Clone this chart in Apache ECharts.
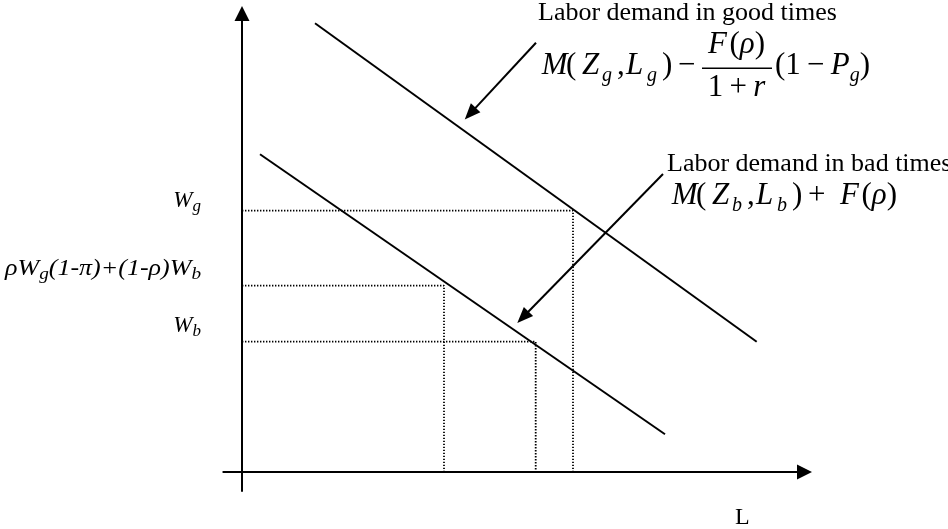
<!DOCTYPE html>
<html>
<head>
<meta charset="utf-8">
<script src="https://cdn.jsdelivr.net/npm/echarts@6/dist/echarts.min.js"></script>
<style>
  html, body { margin: 0; padding: 0; background: #fff; }
  #chart { width: 948px; height: 529px; }
</style>
</head>
<body>
<div id="chart"></div>
<script>
// demand curves, end points as [L, W]
const goodTimesL = [7.3, 51.47];
const goodTimesW = [44.87, 13.03];
const badTimesL = [1.8, 42.3];
const badTimesW = [31.77, 3.77];

// wage levels Wg, expected wage, Wb and the employment that goes with each
const wageLevels = [26.13, 18.63, 13.03];
const laborLevels = [33.1, 20.2, 29.37];

// pointer arrows from the labels, [from, to]
const goodArrow = [[29.4, 42.93], [22.82, 35.84]];
const badArrow = [[42.1, 29.8], [28.09, 15.47]];

const serif = "'Liberation Serif', 'Times New Roman', serif";
const black = '#000';

const chart = echarts.init(document.getElementById('chart'));

const axisCommon = {
  type: 'value',
  axisLine: {
    onZero: true,
    symbol: ['none', 'triangle'],
    symbolSize: [15, 15],
    lineStyle: { color: black, width: 2 }
  },
  axisTick: { show: false },
  axisLabel: { show: false },
  splitLine: { show: false }
};

const curve = (xs, ys, extra) => Object.assign({
  type: 'line',
  data: xs.map((x, i) => [x, ys[i]]),
  symbol: 'none',
  silent: true,
  z: 3,
  lineStyle: { color: black, width: 2 }
}, extra);

const guides = wageLevels.map((w, i) => ({
  type: 'line',
  data: [[0, w], [laborLevels[i], w], [laborLevels[i], 0]],
  symbol: 'none',
  silent: true,
  lineStyle: { color: black, width: 1.8, type: [1.4, 1.6] }
}));

const text = (x, y, str, style, el) => Object.assign({
  type: 'text',
  x: x,
  y: y,
  silent: true,
  style: Object.assign({
    text: str,
    fill: black,
    font: '26px ' + serif,
    align: 'left',
    textAlign: 'left',
    verticalAlign: 'middle',
    textVerticalAlign: 'middle'
  }, style)
}, el);

// one line of a formula, glyph groups placed at their own x; baseline given
const MAIN = 31, SUB = 20, SUB_DROP = 5.7;
const mathRow = (baseline, pieces) => pieces.map(([x, str, kind]) => {
  const size = kind === 's' ? SUB : MAIN;
  const y = kind === 's' ? baseline + SUB_DROP - 0.3375 * size : baseline - 0.3375 * size;
  const italic = kind === 'n' ? '' : 'italic ';
  return text(x, y, str, { font: italic + size + 'px ' + serif });
});

const mathRich = {
  n: { fontFamily: serif, fontSize: MAIN, lineHeight: 39, fill: black },
  i: { fontFamily: serif, fontSize: MAIN, fontStyle: 'italic', lineHeight: 39, fill: black },
  s: { fontFamily: serif, fontSize: SUB, fontStyle: 'italic', lineHeight: 20, verticalAlign: 'bottom', fill: black }
};
const labRich = {
  i: { fontFamily: serif, fontSize: 23, fontStyle: 'italic', lineHeight: 29, fill: black },
  s: { fontFamily: serif, fontSize: 17, fontStyle: 'italic', lineHeight: 17, verticalAlign: 'bottom', fill: black }
};
const rightStyle = { rich: labRich, align: 'right', textAlign: 'right' };
const centerStyle = { rich: mathRich, align: 'center', textAlign: 'center' };

const option = {
  animation: false,
  backgroundColor: '#fff',
  grid: { left: 223.3, right: 143.5, top: 13.5, bottom: 38 },
  xAxis: Object.assign({}, axisCommon, { min: -1.87, max: 56.25 }),
  yAxis: Object.assign({}, axisCommon, { min: -1.9, max: 45.85 }),
  series: [
    curve(goodTimesL, goodTimesW, {
      markLine: {
        silent: true,
        animation: false,
        symbol: ['none', 'triangle'],
        symbolSize: [13, 16],
        label: { show: false },
        lineStyle: { color: black, width: 2, type: 'solid' },
        data: [
          [{ coord: goodArrow[0] }, { coord: goodArrow[1] }],
          [{ coord: badArrow[0] }, { coord: badArrow[1] }]
        ]
      }
    }),
    curve(badTimesL, badTimesW)
  ].concat(guides),
  graphic: [
    text(538, 12.9, 'Labor demand in good times'),
    text(667, 163.7, 'Labor demand in bad times'),
    text(735, 517.9, 'L', { font: '24px ' + serif }),

    // good times demand: M(Zg, Lg) - F(rho)/(1+r) (1 - Pg)
    ...mathRow(76.7, [
      [541.7, 'M', 'i'], [566, '(', 'n'], [582, 'Z', 'i'], [602, 'g', 's'], [617, ',', 'n'],
      [626, 'L', 'i'], [647, 'g', 's'], [662, ')', 'n'], [678, '\u2212', 'n']
    ]),
    text(736.5, 44.5, '{i|F}{n|\u200a(}{i|ρ}{n|)}', centerStyle),
    { type: 'line', silent: true, shape: { x1: 702, y1: 68.3, x2: 772, y2: 68.3 }, style: { stroke: black, lineWidth: 1.5 } },
    text(736.5, 87.8, '{n|1\u2009+\u2009}{i|r}', centerStyle),
    text(775, 66.2, '{n|(1\u2009\u2212\u2009}{i|P}{s|g}{n|)}', { rich: mathRich }),

    // bad times demand: M(Zb, Lb) + F(rho)
    ...mathRow(206.7, [
      [671.7, 'M', 'i'], [696, '(', 'n'], [712, 'Z', 'i'], [732, 'b', 's'], [747, ',', 'n'],
      [756, 'L', 'i'], [777, 'b', 's'], [792, ')', 'n'], [808, '+', 'n']
    ]),
    text(840, 196.2, '{i|F}{n|\u200a(}{i|ρ}{n|)}', { rich: mathRich }),

    // wage labels on the vertical axis
    text(201, 200.5, '{i|W}{s|g}', rightStyle),
    text(201, 268.9, '{i|ρW}{s|g}{i|(1-π)+(1-ρ)W}{s|b}', rightStyle, { scaleX: 1.13 }),
    text(201, 325.5, '{i|W}{s|b}', rightStyle)
  ]
};

chart.setOption(option);
window.addEventListener('resize', () => chart.resize());
</script>
</body>
</html>
